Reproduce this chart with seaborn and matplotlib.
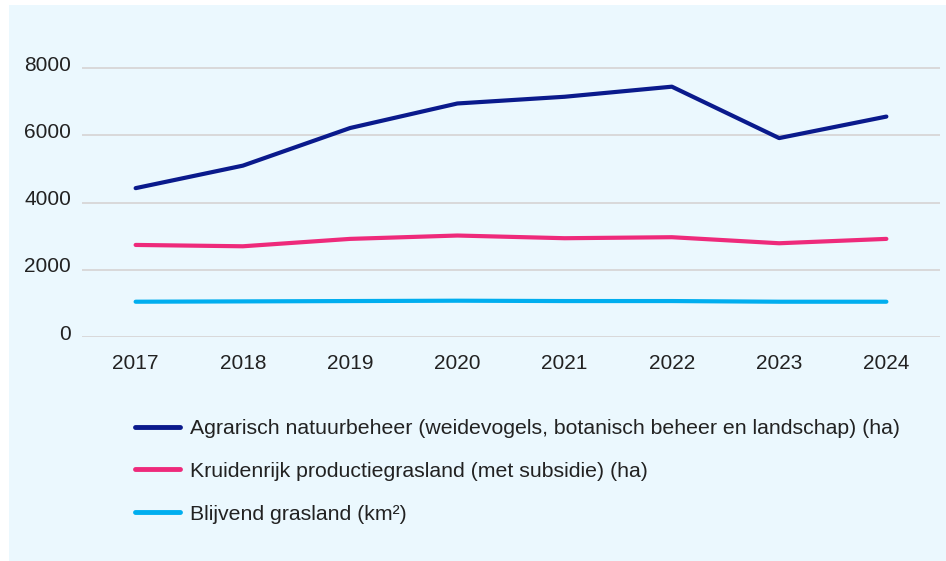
import pandas as pd
import matplotlib.pyplot as plt
import seaborn as sns
from matplotlib.transforms import ScaledTranslation
from matplotlib.lines import Line2D

# data
years = ['2017', '2018', '2019', '2020', '2021', '2022', '2023', '2024']
agrarisch = [4430, 5100, 6220, 6950, 7150, 7450, 5920, 6560]
kruidenrijk = [2740, 2700, 2920, 3020, 2940, 2970, 2790, 2920]
blijvend = [1050, 1060, 1070, 1080, 1070, 1070, 1050, 1050]

series_names = [
    'Agrarisch natuurbeheer (weidevogels, botanisch beheer en landschap) (ha)',
    'Kruidenrijk productiegrasland (met subsidie) (ha)',
    'Blijvend grasland (km²)',
]
colors = ['#0a1a8c', '#ee2a7b', '#00aeef']
bg = '#ebf8fe'

df = pd.DataFrame({
    'jaar': years * 3,
    'waarde': agrarisch + kruidenrijk + blijvend,
    'reeks': [series_names[0]] * 8 + [series_names[1]] * 8 + [series_names[2]] * 8,
})

sns.set_style('white')
plt.rcParams['font.family'] = ['Liberation Sans', 'DejaVu Sans']

W, H = 946, 561
fig = plt.figure(figsize=(W / 100, H / 100), dpi=100)
fig.patch.set_facecolor('white')

# light blue panel behind everything
panel = fig.add_axes([9 / W, 0, 1 - 9 / W, 1 - 5 / H])
panel.set_facecolor(bg)
panel.set_xticks([])
panel.set_yticks([])
for s in panel.spines.values():
    s.set_visible(False)

ax = fig.add_axes([82 / W, (H - 337) / H, (940 - 82) / W, 285.6 / H])
ax.set_facecolor('none')

sns.lineplot(data=df, x='jaar', y='waarde', hue='reeks', palette=colors,
             linewidth=3, ax=ax, legend=False, solid_capstyle='round')

ax.set_xlim(-0.5, 7.5)
ax.set_ylim(0, 8500)
ax.set_yticks([0, 2000, 4000, 6000, 8000])
ax.grid(axis='y', color='#d9d9d9', linewidth=1.4)
ax.set_axisbelow(True)
for s in ax.spines.values():
    s.set_visible(False)
ax.set_xlabel('')
ax.set_ylabel('')
ax.tick_params(axis='both', length=0, labelsize=15, colors='#222222')
ax.tick_params(axis='y', pad=8)
ax.tick_params(axis='x', pad=12)
for lab in ax.get_yticklabels():
    lab.set_transform(lab.get_transform() + ScaledTranslation(0, 5 / 100, fig.dpi_scale_trans))

handles = [Line2D([0], [0], color=c, lw=3.5, solid_capstyle='round') for c in colors]
fig.legend(handles, series_names, loc='upper left',
           bbox_to_anchor=(135 / W, 1 - 419 / H), bbox_transform=fig.transFigure,
           frameon=False, fontsize=15.3, handlelength=2.1, handletextpad=0.5,
           labelspacing=1.12, borderpad=0, borderaxespad=0, labelcolor='#222222')

fig.savefig('out.png', dpi=100, facecolor=fig.get_facecolor())
